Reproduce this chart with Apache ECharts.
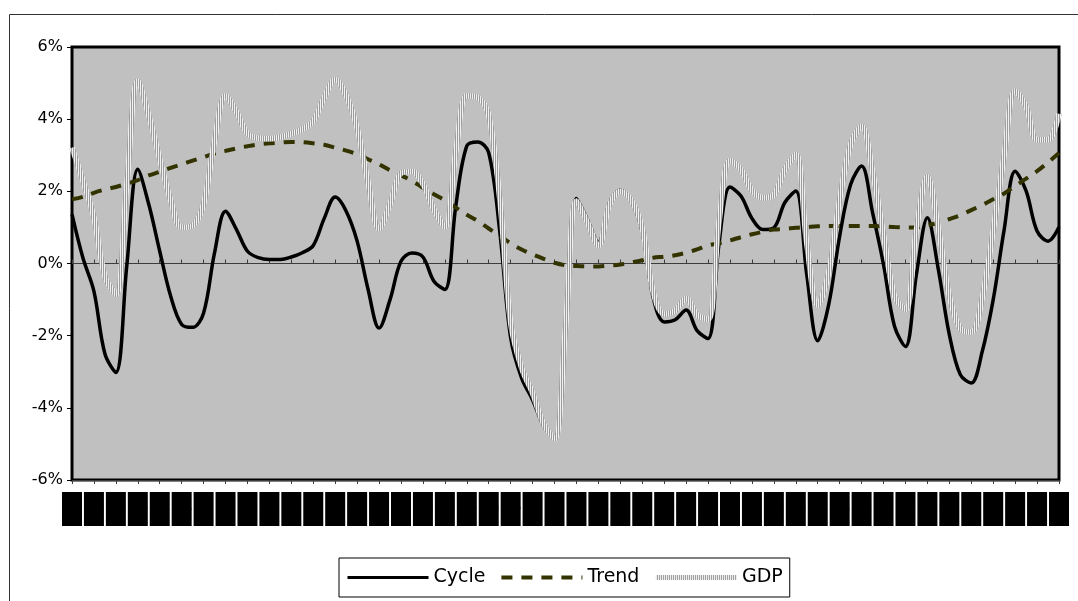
<!DOCTYPE html>
<html>
<head>
<meta charset="utf-8">
<script src="https://cdn.jsdelivr.net/npm/echarts@6/dist/echarts.min.js"></script>
<style>
  html, body { margin: 0; padding: 0; background: #fff; }
  #chart { width: 1078px; height: 601px; }
</style>
</head>
<body>
<div id="chart"></div>
<script>
// tick labels (rendered as solid black blocks in the original)
const yearLabels = [
  '1960', '1961', '1962', '1963', '1964', '1965', '1966', '1967', '1968', '1969',
  '1970', '1971', '1972', '1973', '1974', '1975', '1976', '1977', '1978', '1979',
  '1980', '1981', '1982', '1983', '1984', '1985', '1986', '1987', '1988', '1989',
  '1990', '1991', '1992', '1993', '1994', '1995', '1996', '1997', '1998', '1999',
  '2000', '2001', '2002', '2003', '2004', '2005'
];

// values in %, two readings per label step
const cycle = [
  1.36, 0.15, -0.77, -2.5, -3.02, -0.05, 2.61, 1.64, 0.34, -0.91,
  -1.69, -1.77, -1.37, 0.3, 1.45, 0.94, 0.34, 0.16, 0.11, 0.11,
  0.18, 0.3, 0.5, 1.25, 1.84, 1.45, 0.62, -0.72, -1.79, -1.0,
  0.06, 0.29, 0.18, -0.49, -0.72, 1.6, 3.26, 3.37, 3.07, 0.9,
  -2.06, -3.18, -3.78, -4.5, -4.85, -1.75, 1.8, 1.22, 0.58, 1.68,
  2.03, 1.72, 0.88, -0.95, -1.62, -1.56, -1.29, -1.86, -2.08, 0.55,
  2.12, 1.87, 1.25, 0.94, 0.99, 1.69, 2.01, -0.31, -2.14, -1.14,
  0.76, 2.19, 2.7, 1.41, -0.03, -1.74, -2.3, -0.3, 1.27, -0.17,
  -1.97, -3.08, -3.31, -2.44, -1.0, 0.94, 2.56, 2.01, 0.9, 0.62,
  1.01
];

const trend = [
  1.78, 1.85, 1.96, 2.05, 2.12, 2.21, 2.31, 2.44, 2.54, 2.65,
  2.75, 2.85, 2.95, 3.05, 3.12, 3.19, 3.25, 3.3, 3.33, 3.35,
  3.37, 3.36, 3.33, 3.29, 3.21, 3.13, 3.03, 2.89, 2.75, 2.58,
  2.44, 2.29, 2.1, 1.92, 1.75, 1.55, 1.35, 1.18, 0.97, 0.77,
  0.56, 0.39, 0.25, 0.13, 0.02, -0.05, -0.07, -0.08, -0.08, -0.06,
  -0.03, 0.03, 0.09, 0.16, 0.19, 0.23, 0.3, 0.39, 0.5, 0.56,
  0.64, 0.73, 0.81, 0.88, 0.94, 0.96, 0.99, 1.01, 1.03, 1.04,
  1.04, 1.04, 1.04, 1.04, 1.03, 1.01, 1.0, 1.0, 1.06, 1.13,
  1.23, 1.34, 1.48, 1.62, 1.78, 1.94, 2.15, 2.35, 2.56, 2.8,
  3.06
];

const gdp = [
  3.21, 2.29, 1.27, -0.35, -0.85, 2.19, 5.06, 4.1, 2.9, 1.75,
  1.0, 1.05, 1.65, 3.4, 4.65, 4.2, 3.6, 3.47, 3.46, 3.5,
  3.6, 3.72, 3.95, 4.6, 5.1, 4.65, 3.75, 2.25, 0.97, 1.65,
  2.5, 2.55, 2.2, 1.5, 1.02, 3.1, 4.65, 4.6, 4.1, 1.8,
  -1.65, -2.9, -3.6, -4.45, -4.85, -1.8, 1.73, 1.15, 0.5, 1.62,
  2.0, 1.75, 0.97, -0.8, -1.4, -1.3, -0.97, -1.42, -1.55, 1.15,
  2.85, 2.6, 2.03, 1.82, 1.9, 2.6, 3.02, 0.55, -1.15, -0.25,
  1.77, 3.3, 3.8, 2.55, 0.8, -0.9, -1.27, 0.95, 2.4, 0.97,
  -0.9, -1.8, -1.9, -0.95, 0.92, 3.0, 4.78, 4.35, 3.43, 3.43,
  4.15
];

// category per reading: label, then a half-step between labels
const categories = [];
yearLabels.forEach((y, i) => {
  categories.push(y);
  if (i < yearLabels.length - 1) categories.push(y + '.5');
});

// striped grey stroke used for the GDP line
function stripePattern() {
  const c = document.createElement('canvas');
  c.width = 2;
  c.height = 1;
  const ctx = c.getContext('2d');
  ctx.fillStyle = '#f0f0f0';
  ctx.fillRect(0, 0, 1, 1);
  ctx.fillStyle = '#9c9c9c';
  ctx.fillRect(1, 0, 1, 1);
  return { image: c, repeat: 'repeat' };
}

const chart = echarts.init(document.getElementById('chart'));
const stripes = stripePattern();

const zeroAxis = (position) => ({
  type: 'category',
  data: categories,
  boundaryGap: false,
  position: position,
  axisLine: { show: true, onZero: true, lineStyle: { color: '#3c3c3c', width: 1 } },
  axisTick: { show: true, interval: 1, length: 4, lineStyle: { color: '#3c3c3c', width: 1 } },
  axisLabel: { show: false },
  splitLine: { show: false }
});

const option = {
  backgroundColor: '#fff',
  animation: false,
  graphic: [{
    type: 'rect',
    silent: true,
    z: -1,
    shape: { x: 9.5, y: 14.5, width: 1100, height: 620 },
    style: { fill: 'none', stroke: '#333', lineWidth: 1 }
  }],
  grid: {
    left: 72,
    right: 19,
    top: 47,
    bottom: 121,
    show: true,
    backgroundColor: '#c0c0c0',
    borderColor: '#000',
    borderWidth: 3
  },
  legend: {
    left: 339,
    top: 558,
    padding: [10, 7, 10, 7],
    itemGap: 14,
    itemWidth: 81,
    itemHeight: 20,
    borderColor: '#000',
    borderWidth: 1,
    itemStyle: { opacity: 0 },
    textStyle: { fontFamily: 'DejaVu Sans', fontSize: 19, color: '#000' },
    data: [
      { name: 'Cycle', lineStyle: { width: 3 } },
      { name: 'Trend', lineStyle: { width: 4 } },
      { name: 'GDP', lineStyle: { width: 5 } }
    ]
  },
  xAxis: [
    {
      type: 'category',
      data: categories,
      boundaryGap: false,
      position: 'bottom',
      axisLine: { show: false, onZero: false },
      axisTick: { show: false },
      splitLine: { show: false },
      axisLabel: {
        interval: 1,
        margin: 12,
        formatter: (v) => '{box|' + v + '}',
        rich: {
          box: {
            width: 20,
            height: 34,
            backgroundColor: '#000',
            color: '#000',
            fontSize: 9,
            align: 'center'
          }
        }
      }
    },
    zeroAxis('top'),
    zeroAxis('bottom')
  ],
  yAxis: {
    type: 'value',
    min: -6,
    max: 6,
    interval: 2,
    axisLine: { show: false },
    axisTick: { show: true, length: 5, lineStyle: { color: '#000', width: 1 } },
    splitLine: { show: false },
    axisLabel: {
      margin: 9,
      fontFamily: 'DejaVu Sans',
      fontSize: 16,
      color: '#000',
      formatter: '{value}%'
    }
  },
  series: [
    {
      name: 'Cycle',
      type: 'line',
      data: cycle,
      symbol: 'none',
      smooth: 0.35,
      itemStyle: { color: '#000' },
      lineStyle: { color: '#000', width: 3.5 }
    },
    {
      name: 'Trend',
      type: 'line',
      data: trend,
      symbol: 'none',
      smooth: 0.35,
      itemStyle: { color: '#333300' },
      lineStyle: { color: '#333300', width: 4, type: [11, 9] }
    },
    {
      name: 'GDP',
      type: 'line',
      data: gdp,
      symbol: 'none',
      smooth: 0.35,
      itemStyle: { color: '#d4d4d4' },
      lineStyle: { color: stripes, width: 5.5 }
    }
  ]
};

chart.setOption(option);
</script>
</body>
</html>
